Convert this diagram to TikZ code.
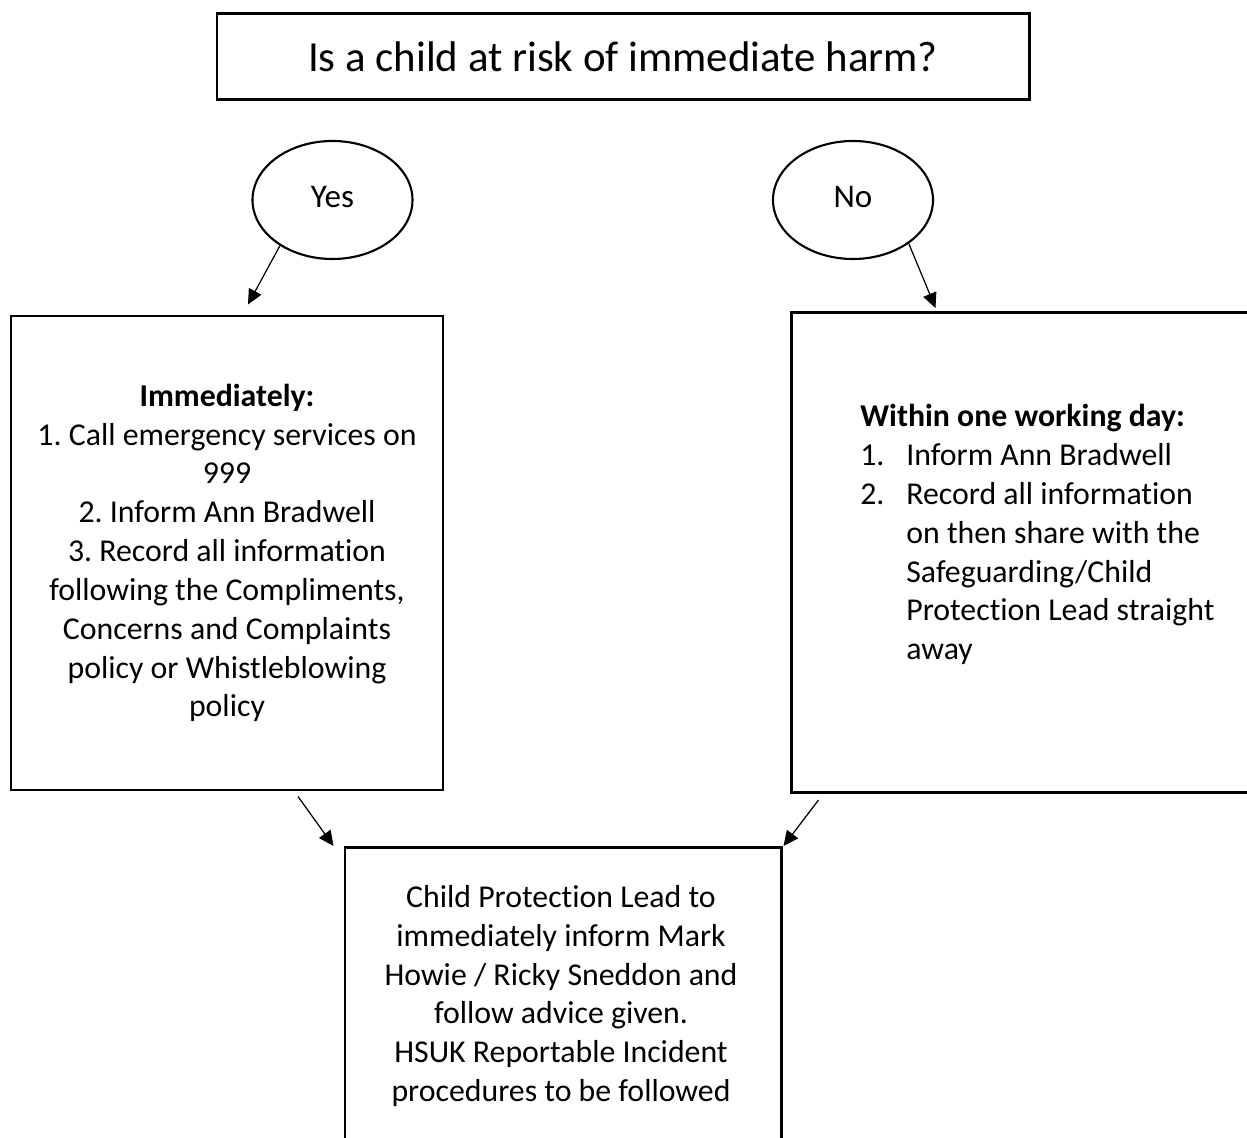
\documentclass[tikz,border=0pt]{standalone}
\usepackage{fontspec}
\setmainfont{Carlito}[Ligatures=NoCommon]
\usetikzlibrary{shapes.geometric, arrows.meta, positioning, calc}
\frenchspacing

\begin{document}
\begin{tikzpicture}[
  box/.style={draw, line width=1.7pt, inner sep=0pt},
  answer/.style={draw, ellipse, line width=1.2pt, minimum width=3.2cm, minimum height=2.36cm, font=\fontsize{18.8}{22}\selectfont},
  arr/.style={-{Triangle[length=0.3cm, width=0.28cm]}, line width=0.7pt},
  body/.style={font=\fontsize{18.1}{22.1}\selectfont, inner sep=0pt}
]
% Child safeguarding flow chart
\useasboundingbox (0,0) rectangle (24.94,-22.76);
\clip (0,0) rectangle (24.94,-22.76);

\node[box, minimum width=16.24cm, minimum height=1.72cm, font=\fontsize{24.4}{28}\selectfont] (question) at (12.46,-1.14) {Is a child at risk of immediate harm?};

\node[answer] (yes) at (6.65,-4.0) {\raisebox{0.12cm}{Yes}};
\node[answer] (no) at (17.06,-4.0) {\raisebox{0.12cm}{No}};

\node[box, body, minimum width=8.64cm, minimum height=9.48cm, align=center] (now) at (4.54,-11.06) {\textbf{Immediately:}\\1. Call emergency services on\\999\\2. Inform Ann Bradwell\\3. Record all information\\following the Compliments,\\Concerns and Complaints\\policy or Whistleblowing\\policy};

\node[box, minimum width=9.4cm, minimum height=9.6cm] (later) at (20.52,-11.05) {};
\node[body, anchor=north west, align=left] (latertext) at (17.2,-8.08) {\textbf{Within one working day:}\\\makebox[0.92cm][l]{1.}Inform Ann Bradwell\\\makebox[0.92cm][l]{2.}Record all information\\\hspace*{0.92cm}on then share with the\\\hspace*{0.92cm}Safeguarding/Child\\\hspace*{0.92cm}Protection Lead straight\\\hspace*{0.92cm}away};

\node[box, minimum width=8.72cm, minimum height=6.3cm] (lead) at (11.26,-20.1) {};
\node[body, anchor=north, align=center] (leadtext) at (11.22,-17.7) {Child Protection Lead to\\immediately inform Mark\\Howie / Ricky Sneddon and\\follow advice given.\\HSUK Reportable Incident\\procedures to be followed};

\draw[arr] (yes.-139) -- ($(now.north)+(0.42,0.2)$);
\draw[arr] (no.-38) -- ($(later.north west)+(2.92,0.06)$);
\draw[arr] ($(now.south)+(1.42,-0.1)$) -- ($(lead.north west)+(-0.2,0)$);
\draw[arr] ($(later.south west)+(0.58,-0.12)$) -- ($(lead.north east)+(0.02,0)$);
\end{tikzpicture}
\end{document}
